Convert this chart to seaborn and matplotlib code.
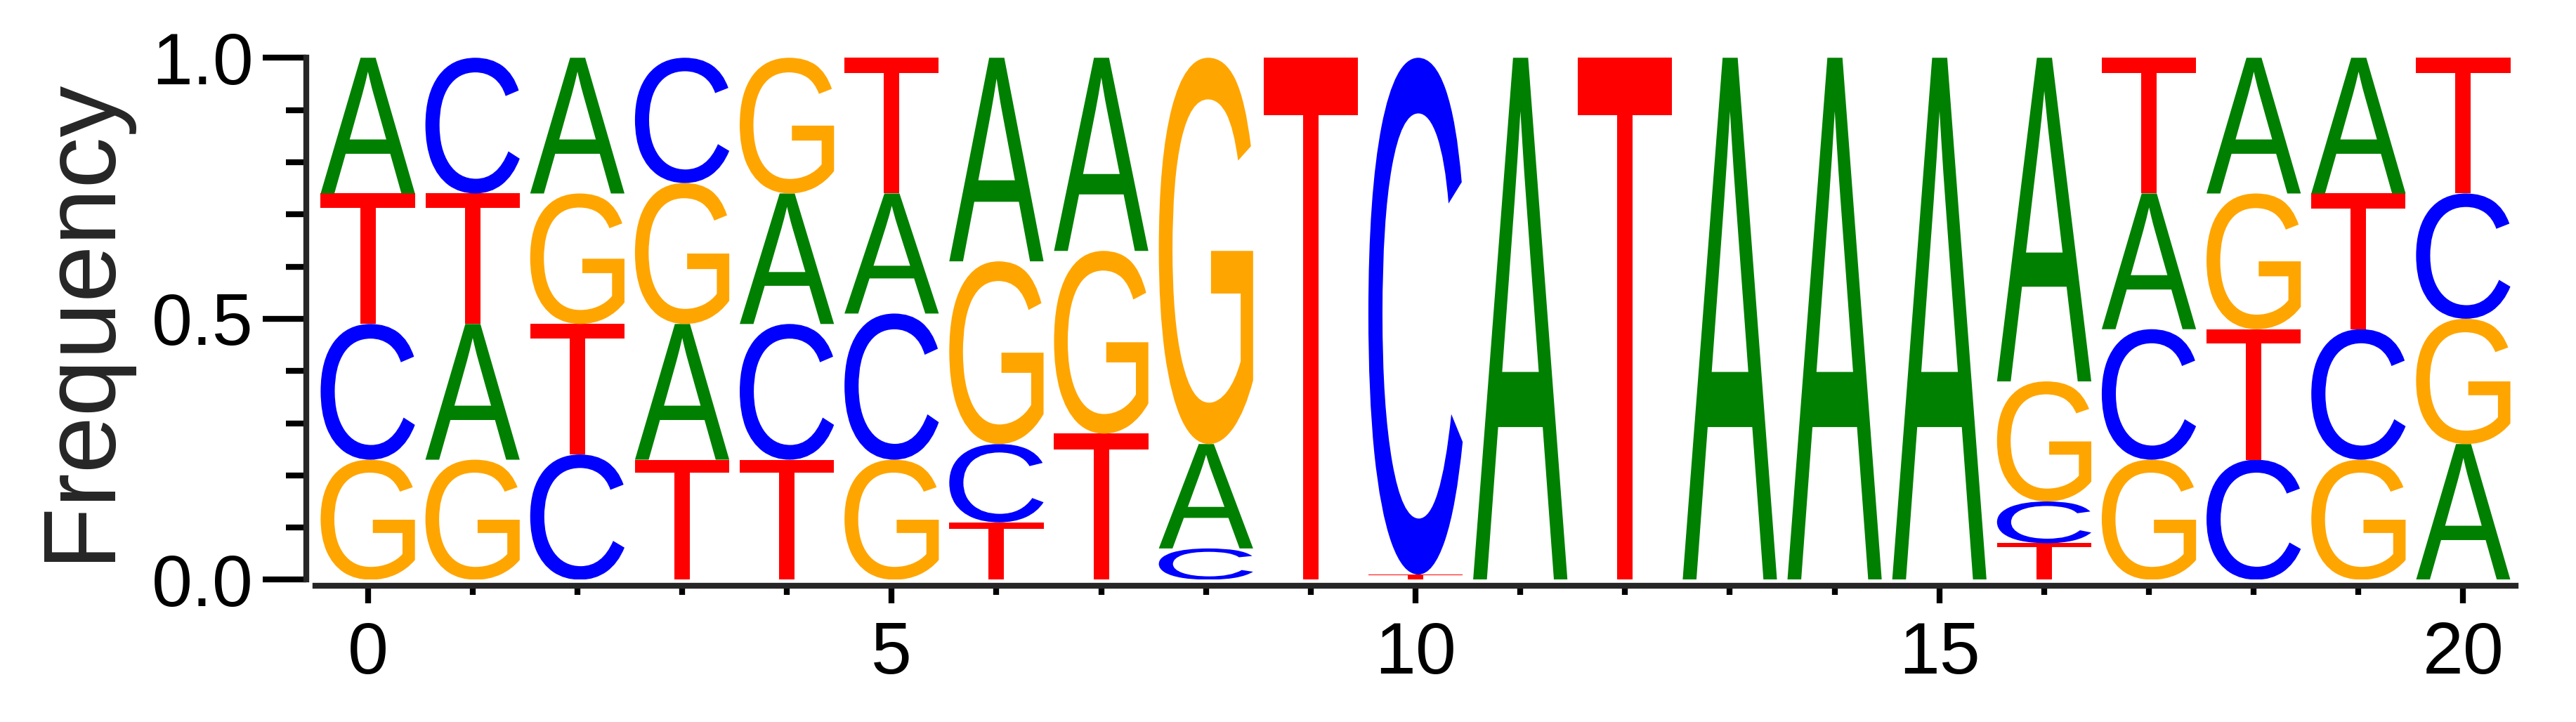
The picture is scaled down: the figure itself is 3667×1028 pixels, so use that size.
import numpy as np
import matplotlib
matplotlib.use("Agg")
import matplotlib.pyplot as plt
import seaborn as sns
from matplotlib.textpath import TextPath
from matplotlib.patches import PathPatch
from matplotlib.font_manager import FontProperties
from matplotlib.transforms import Affine2D

# letters per position, bottom to top, with stacked heights
letters = [
    "GCTA", "GATC", "CTGA", "TAGC", "TCAG", "GCAT", "TCGA", "TGA", "CAG", "T",
    "TC", "A", "T", "A", "A", "A", "TCGA", "GCAT", "CTGA", "GCTA", "AGCT",
]
heights = [
    [0.23, 0.26, 0.25, 0.26], [0.23, 0.26, 0.25, 0.26], [0.24, 0.25, 0.25, 0.26],
    [0.23, 0.26, 0.27, 0.24], [0.23, 0.26, 0.25, 0.26], [0.23, 0.28, 0.23, 0.26],
    [0.11, 0.15, 0.35, 0.39], [0.28, 0.35, 0.37], [0.06, 0.20, 0.74], [1.0],
    [0.01, 0.99], [1.0], [1.0], [1.0], [1.0], [1.0],
    [0.07, 0.08, 0.23, 0.62], [0.23, 0.25, 0.26, 0.26], [0.23, 0.25, 0.26, 0.26],
    [0.23, 0.25, 0.26, 0.26], [0.26, 0.24, 0.24, 0.26],
]
colors = {"A": "#008000", "C": "#0000FF", "G": "#FFA500", "T": "#FF0000"}

sns.set_theme(style="ticks")
plt.rcParams["font.family"] = ["Liberation Sans", "DejaVu Sans"]

fig = plt.figure(figsize=(3667 / 300, 1028 / 300), dpi=300)
ax = fig.add_axes([0.12, 0.197, 0.859, 0.723])

fp = FontProperties(family="Liberation Sans")
width = 0.9


def draw_letter(ch, x, y0, h):
    tp = TextPath((0, 0), ch, size=1, prop=fp)
    ext = tp.get_extents()
    tr = (Affine2D().translate(-ext.x0, -ext.y0)
          .scale(width / ext.width, h / ext.height)
          .translate(x - width / 2, y0))
    ax.add_patch(PathPatch(tr.transform_path(tp), facecolor=colors[ch],
                           edgecolor="none"))


for pos, (seq, hs) in enumerate(zip(letters, heights)):
    y = 0.0
    for ch, h in zip(seq, hs):
        draw_letter(ch, pos, y, h)
        y += h

ax.set_xlim(-0.56, 20.56)
ax.set_ylim(0, 1)
ax.set_xticks([0, 5, 10, 15, 20])
ax.set_xticks(range(21), minor=True)
ax.set_yticks([0, 0.5, 1.0])
ax.set_yticklabels(["0.0", "0.5", "1.0"])
ax.set_yticks(np.arange(0, 1.01, 0.1), minor=True)
ax.set_ylabel("Frequency", fontsize=35, labelpad=8)

sns.despine(ax=ax)
ax.spines["bottom"].set_bounds(-0.5, 20.5)
ax.spines["bottom"].set_position(("outward", 2))
ax.spines["left"].set_position(("outward", 1))
for s in ("left", "bottom"):
    ax.spines[s].set_linewidth(2)
ax.tick_params(axis="both", which="both", width=2, colors="black", labelsize=25)
ax.tick_params(axis="y", which="major", length=15, pad=3)
ax.tick_params(axis="y", which="minor", length=7)
ax.tick_params(axis="x", which="major", length=6, pad=6)
ax.tick_params(axis="x", which="minor", length=3)

plt.savefig("out.png", dpi=300)
plt.close()
